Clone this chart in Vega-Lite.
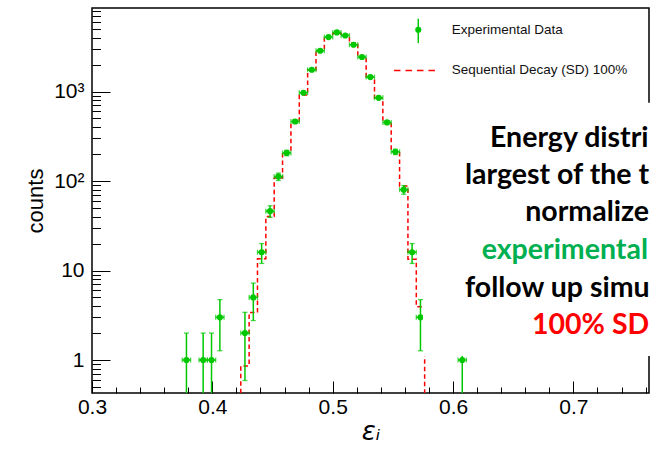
{
  "$schema": "https://vega.github.io/schema/vega-lite/v6.json",
  "width": 557,
  "height": 385,
  "autosize": "none",
  "padding": {"left": 92, "top": 8, "right": 5, "bottom": 58},
  "background": "white",
  "config": {
    "view": {"stroke": "black", "strokeWidth": 1.5},
    "axis": {"grid": false, "domain": false, "tickColor": "black", "tickWidth": 1, "labelColor": "black", "titleColor": "black", "labelFont": "Liberation Sans", "titleFont": "Liberation Sans", "titleFontWeight": "normal", "labelFlush": false, "labelOverlap": false, "labelBound": false}
  },
  "datasets": {
    "bins": [
      {"x": 0.37847, "xlo": 0.375, "xhi": 0.38194, "n": 1, "lo": 0.01, "hi": 2},
      {"x": 0.39236, "xlo": 0.38889, "xhi": 0.39583, "n": 1, "lo": 0.01, "hi": 2},
      {"x": 0.39931, "xlo": 0.39583, "xhi": 0.40278, "n": 1, "lo": 0.01, "hi": 2},
      {"x": 0.40625, "xlo": 0.40278, "xhi": 0.40972, "n": 3, "lo": 1.27, "hi": 4.73},
      {"x": 0.42708, "xlo": 0.42361, "xhi": 0.43056, "n": 2, "lo": 0.59, "hi": 3.41},
      {"x": 0.43403, "xlo": 0.43056, "xhi": 0.4375, "n": 5, "lo": 2.76, "hi": 7.24},
      {"x": 0.44097, "xlo": 0.4375, "xhi": 0.44444, "n": 16, "lo": 12, "hi": 20},
      {"x": 0.44792, "xlo": 0.44444, "xhi": 0.45139, "n": 46, "lo": 39.2, "hi": 52.8},
      {"x": 0.45486, "xlo": 0.45139, "xhi": 0.45833, "n": 112, "lo": 101.4, "hi": 122.6},
      {"x": 0.46181, "xlo": 0.45833, "xhi": 0.46528, "n": 206, "lo": 191.6, "hi": 220.4},
      {"x": 0.46875, "xlo": 0.46528, "xhi": 0.47222, "n": 462, "lo": 440.5, "hi": 483.5},
      {"x": 0.47569, "xlo": 0.47222, "xhi": 0.47917, "n": 968, "lo": 936.9, "hi": 999.1},
      {"x": 0.48264, "xlo": 0.47917, "xhi": 0.48611, "n": 1749, "lo": 1707.2, "hi": 1790.8},
      {"x": 0.48958, "xlo": 0.48611, "xhi": 0.49306, "n": 2852, "lo": 2798.6, "hi": 2905.4},
      {"x": 0.49653, "xlo": 0.49306, "xhi": 0.5, "n": 4058, "lo": 3994.3, "hi": 4121.7},
      {"x": 0.50347, "xlo": 0.5, "xhi": 0.50694, "n": 4570, "lo": 4502.4, "hi": 4637.6},
      {"x": 0.51042, "xlo": 0.50694, "xhi": 0.51389, "n": 4228, "lo": 4163, "hi": 4293},
      {"x": 0.51736, "xlo": 0.51389, "xhi": 0.52083, "n": 3328, "lo": 3270.3, "hi": 3385.7},
      {"x": 0.52431, "xlo": 0.52083, "xhi": 0.52778, "n": 2428, "lo": 2378.7, "hi": 2477.3},
      {"x": 0.53125, "xlo": 0.52778, "xhi": 0.53472, "n": 1449, "lo": 1410.9, "hi": 1487.1},
      {"x": 0.53819, "xlo": 0.53472, "xhi": 0.54167, "n": 850, "lo": 820.8, "hi": 879.2},
      {"x": 0.54514, "xlo": 0.54167, "xhi": 0.54861, "n": 451, "lo": 429.8, "hi": 472.2},
      {"x": 0.55208, "xlo": 0.54861, "xhi": 0.55556, "n": 212, "lo": 197.4, "hi": 226.6},
      {"x": 0.55903, "xlo": 0.55556, "xhi": 0.5625, "n": 80, "lo": 71.1, "hi": 88.9},
      {"x": 0.56597, "xlo": 0.5625, "xhi": 0.56944, "n": 16, "lo": 12, "hi": 20},
      {"x": 0.57292, "xlo": 0.56944, "xhi": 0.57639, "n": 3, "lo": 1.27, "hi": 4.73},
      {"x": 0.60764, "xlo": 0.60417, "xhi": 0.61111, "n": 1, "lo": 0.01, "hi": 2}
    ],
    "sd": [
      {"x": 0.42014, "sd": 0.01},
      {"x": 0.42708, "sd": 0.86},
      {"x": 0.43403, "sd": 3.4},
      {"x": 0.44097, "sd": 13.5},
      {"x": 0.44792, "sd": 40},
      {"x": 0.45486, "sd": 108},
      {"x": 0.46181, "sd": 208},
      {"x": 0.46875, "sd": 450},
      {"x": 0.47569, "sd": 915},
      {"x": 0.48264, "sd": 1750},
      {"x": 0.48958, "sd": 2900},
      {"x": 0.49653, "sd": 4140},
      {"x": 0.50347, "sd": 4480},
      {"x": 0.51042, "sd": 4250},
      {"x": 0.51736, "sd": 3500},
      {"x": 0.52431, "sd": 2430},
      {"x": 0.53125, "sd": 1450},
      {"x": 0.53819, "sd": 840},
      {"x": 0.54514, "sd": 462},
      {"x": 0.55208, "sd": 213},
      {"x": 0.55903, "sd": 88},
      {"x": 0.56597, "sd": 13.4},
      {"x": 0.57292, "sd": 3.94},
      {"x": 0.57986, "sd": 0.01}
    ]
  },
  "layer": [
    {
      "data": {"name": "sd"},
      "mark": {"type": "line", "interpolate": "step", "color": "#ff0000", "strokeWidth": 1.5, "strokeDash": [4.5, 3], "clip": true},
      "encoding": {
        "x": {"field": "x", "type": "quantitative", "scale": {"domain": [0.3, 0.7628], "nice": false, "zero": false},
          "axis": {"orient": "bottom", "values": [0.3, 0.4, 0.5, 0.6, 0.7], "format": ".1f", "tickSize": -12, "labelFontSize": 21, "labelPadding": 15, "title": "εᵢ", "titleFont": "DejaVu Sans", "titleFontStyle": "italic", "titleFontSize": 26, "titlePadding": 1}},
        "y": {"field": "sd", "type": "quantitative", "scale": {"type": "log", "domain": [0.428, 8570], "nice": false},
          "axis": {"orient": "left", "values": [1, 10, 100, 1000], "labelExpr": "datum.value == 1000 ? '10³' : datum.value == 100 ? '10²' : datum.value == 10 ? '10' : '1'", "tickSize": -18, "labelFontSize": 21, "labelPadding": 26, "title": "counts", "titleFontSize": 22, "titlePadding": 6}}
      }
    },
    {
      "data": {"name": "bins"},
      "mark": {"type": "rule", "color": "#00c800", "strokeWidth": 1.5, "clip": true},
      "encoding": {
        "x": {"field": "x", "type": "quantitative",
          "axis": {"orient": "bottom", "values": [0.32, 0.34, 0.36, 0.38, 0.42, 0.44, 0.46, 0.48, 0.52, 0.54, 0.56, 0.58, 0.62, 0.64, 0.66, 0.68, 0.72, 0.74, 0.76], "tickSize": -6, "labels": false, "title": null}},
        "y": {"field": "lo", "type": "quantitative",
          "axis": {"orient": "left", "values": [0.5, 0.6, 0.7, 0.8, 0.9, 2, 3, 4, 5, 6, 7, 8, 9, 20, 30, 40, 50, 60, 70, 80, 90, 200, 300, 400, 500, 600, 700, 800, 900, 2000, 3000, 4000, 5000, 6000, 7000, 8000], "tickSize": -8.5, "labels": false, "title": null}},
        "y2": {"field": "hi"}
      }
    },
    {
      "data": {"name": "bins"},
      "mark": {"type": "rule", "color": "#00c800", "strokeWidth": 1.5, "clip": true},
      "encoding": {
        "x": {"field": "xlo", "type": "quantitative", "axis": null},
        "x2": {"field": "xhi"},
        "y": {"field": "n", "type": "quantitative", "axis": null}
      }
    },
    {
      "data": {"name": "bins"},
      "mark": {"type": "tick", "orient": "horizontal", "color": "#00c800", "size": 5, "thickness": 1.3, "clip": true},
      "encoding": {
        "x": {"field": "x", "type": "quantitative", "axis": null},
        "y": {"field": "hi", "type": "quantitative", "axis": null}
      }
    },
    {
      "data": {"name": "bins"},
      "mark": {"type": "tick", "orient": "horizontal", "color": "#00c800", "size": 5, "thickness": 1.3, "clip": true},
      "encoding": {
        "x": {"field": "x", "type": "quantitative", "axis": null},
        "y": {"field": "lo", "type": "quantitative", "axis": null}
      }
    },
    {
      "data": {"name": "bins"},
      "mark": {"type": "tick", "orient": "vertical", "color": "#00c800", "size": 5, "thickness": 1.3, "clip": true},
      "encoding": {
        "x": {"field": "xlo", "type": "quantitative", "axis": null},
        "y": {"field": "n", "type": "quantitative", "axis": null}
      }
    },
    {
      "data": {"name": "bins"},
      "mark": {"type": "tick", "orient": "vertical", "color": "#00c800", "size": 5, "thickness": 1.3, "clip": true},
      "encoding": {
        "x": {"field": "xhi", "type": "quantitative", "axis": null},
        "y": {"field": "n", "type": "quantitative", "axis": null}
      }
    },
    {
      "data": {"name": "bins"},
      "mark": {"type": "circle", "color": "#00c800", "size": 38, "opacity": 1, "clip": true},
      "encoding": {
        "x": {"field": "x", "type": "quantitative", "axis": null},
        "y": {"field": "n", "type": "quantitative", "axis": null}
      }
    },
    {
      "data": {"values": [{}]},
      "mark": {"type": "rect", "color": "white", "opacity": 1},
      "encoding": {
        "x": {"datum": 0.575, "type": "quantitative", "axis": null},
        "x2": {"datum": 0.9},
        "y": {"datum": 748, "type": "quantitative", "axis": null},
        "y2": {"datum": 1.108}
      }
    },
    {
      "data": {"values": [{}]},
      "mark": {"type": "text", "text": "Energy distri", "font": "Lato", "fontWeight": "bold", "fontSize": 28.5, "align": "left", "baseline": "alphabetic", "color": "#000000"},
      "encoding": {"x": {"datum": 0.6307, "type": "quantitative", "axis": null}, "y": {"datum": 242.9, "type": "quantitative", "axis": null}}
    },
    {
      "data": {"values": [{}]},
      "mark": {"type": "text", "text": "largest of the t", "font": "Lato", "fontWeight": "bold", "fontSize": 28.5, "align": "left", "baseline": "alphabetic", "color": "#000000"},
      "encoding": {"x": {"datum": 0.6099, "type": "quantitative", "axis": null}, "y": {"datum": 92.5, "type": "quantitative", "axis": null}}
    },
    {
      "data": {"values": [{}]},
      "mark": {"type": "text", "text": "normalize", "font": "Lato", "fontWeight": "bold", "fontSize": 28.5, "align": "left", "baseline": "alphabetic", "color": "#000000"},
      "encoding": {"x": {"datum": 0.6600, "type": "quantitative", "axis": null}, "y": {"datum": 35.3, "type": "quantitative", "axis": null}}
    },
    {
      "data": {"values": [{}]},
      "mark": {"type": "text", "text": "experimental", "font": "Lato", "fontWeight": "bold", "fontSize": 28.5, "align": "left", "baseline": "alphabetic", "color": "#00b050"},
      "encoding": {"x": {"datum": 0.6238, "type": "quantitative", "axis": null}, "y": {"datum": 13.44, "type": "quantitative", "axis": null}}
    },
    {
      "data": {"values": [{}]},
      "mark": {"type": "text", "text": "follow up simu", "font": "Lato", "fontWeight": "bold", "fontSize": 28.5, "align": "left", "baseline": "alphabetic", "color": "#000000"},
      "encoding": {"x": {"datum": 0.6099, "type": "quantitative", "axis": null}, "y": {"datum": 5.12, "type": "quantitative", "axis": null}}
    },
    {
      "data": {"values": [{}]},
      "mark": {"type": "text", "text": "100% SD", "font": "Lato", "fontWeight": "bold", "fontSize": 28.5, "align": "left", "baseline": "alphabetic", "color": "#ff0000"},
      "encoding": {"x": {"datum": 0.6656, "type": "quantitative", "axis": null}, "y": {"datum": 1.952, "type": "quantitative", "axis": null}}
    },
    {
      "data": {"values": [{}]},
      "mark": {"type": "rule", "color": "#00c800", "strokeWidth": 1.5},
      "encoding": {"x": {"datum": 0.5711, "type": "quantitative", "axis": null}, "y": {"datum": 3477, "type": "quantitative", "axis": null}, "y2": {"datum": 6501}}
    },
    {
      "data": {"values": [{}]},
      "mark": {"type": "circle", "color": "#00c800", "size": 38, "opacity": 1},
      "encoding": {"x": {"datum": 0.5711, "type": "quantitative", "axis": null}, "y": {"datum": 4898, "type": "quantitative", "axis": null}}
    },
    {
      "data": {"values": [{}]},
      "mark": {"type": "rule", "color": "#ff0000", "strokeWidth": 1.5, "strokeDash": [6.5, 5]},
      "encoding": {"x": {"datum": 0.5509, "type": "quantitative", "axis": null}, "x2": {"datum": 0.5877}, "y": {"datum": 1718, "type": "quantitative", "axis": null}}
    },
    {
      "data": {"values": [{}]},
      "mark": {"type": "text", "text": "Experimental Data", "font": "Liberation Sans", "fontSize": 13.5, "align": "left", "baseline": "middle", "color": "#111111"},
      "encoding": {"x": {"datum": 0.5989, "type": "quantitative", "axis": null}, "y": {"datum": 4898, "type": "quantitative", "axis": null}}
    },
    {
      "data": {"values": [{}]},
      "mark": {"type": "text", "text": "Sequential Decay (SD) 100%", "font": "Liberation Sans", "fontSize": 13.5, "align": "left", "baseline": "middle", "color": "#111111"},
      "encoding": {"x": {"datum": 0.5989, "type": "quantitative", "axis": null}, "y": {"datum": 1718, "type": "quantitative", "axis": null}}
    }
  ],
  "resolve": {"axis": {"x": "independent", "y": "independent"}}
}
